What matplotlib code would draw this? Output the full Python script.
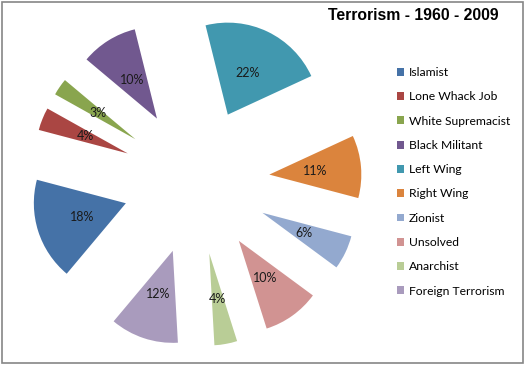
import matplotlib.pyplot as plt
from matplotlib.patches import Rectangle

labels = ["Islamist", "Lone Whack Job", "White Supremacist", "Black Militant",
          "Left Wing", "Right Wing", "Zionist", "Unsolved", "Anarchist",
          "Foreign Terrorism"]
shares = [18, 4, 3, 10, 22, 11, 6, 10, 4, 12]
colors = ["#4572A7", "#AA4643", "#89A54E", "#71588F", "#4198AF",
          "#DB843D", "#93A9CF", "#D19392", "#B9CD96", "#A99BBD"]

W, H = 526, 365
fig = plt.figure(figsize=(W / 100, H / 100), dpi=100)

cx, cy, r = 196, 181, 92
ax_w = 380
ax = fig.add_axes([0, 0, ax_w / W, 1])
wedges, texts, autotexts = ax.pie(
    shares, colors=colors, explode=[0.8] * len(shares), radius=1,
    startangle=230, counterclock=False, autopct="%d%%", pctdistance=0.5,
    wedgeprops=dict(linewidth=0),
    textprops=dict(fontsize=9, family="Lato", color="#1a1a1a"))
ax.set_xlim(-cx / r, (ax_w - cx) / r)
ax.set_ylim((cy - H) / r, cy / r)
ax.set_aspect("auto")
ax.axis("off")

fig.text(413 / W, 1 - 15 / H, "Terrorism - 1960 - 2009", ha="center",
         va="center", fontsize=11.3, fontweight="bold", family="Liberation Sans")

fig.legend(wedges, labels, loc="upper left",
           bbox_to_anchor=(397 / W, 1 - 67 / H), frameon=False,
           prop=dict(family="Lato", size=8.7), handlelength=0.62,
           handleheight=0.62, handletextpad=0.35, labelspacing=1.1,
           borderaxespad=0, borderpad=0)

fig.add_artist(Rectangle((1.5 / W, 2.5 / H), 521 / W, 361 / H,
                         transform=fig.transFigure, fill=False,
                         edgecolor="#868686", linewidth=1.2))

fig.savefig("out.png", dpi=100)
